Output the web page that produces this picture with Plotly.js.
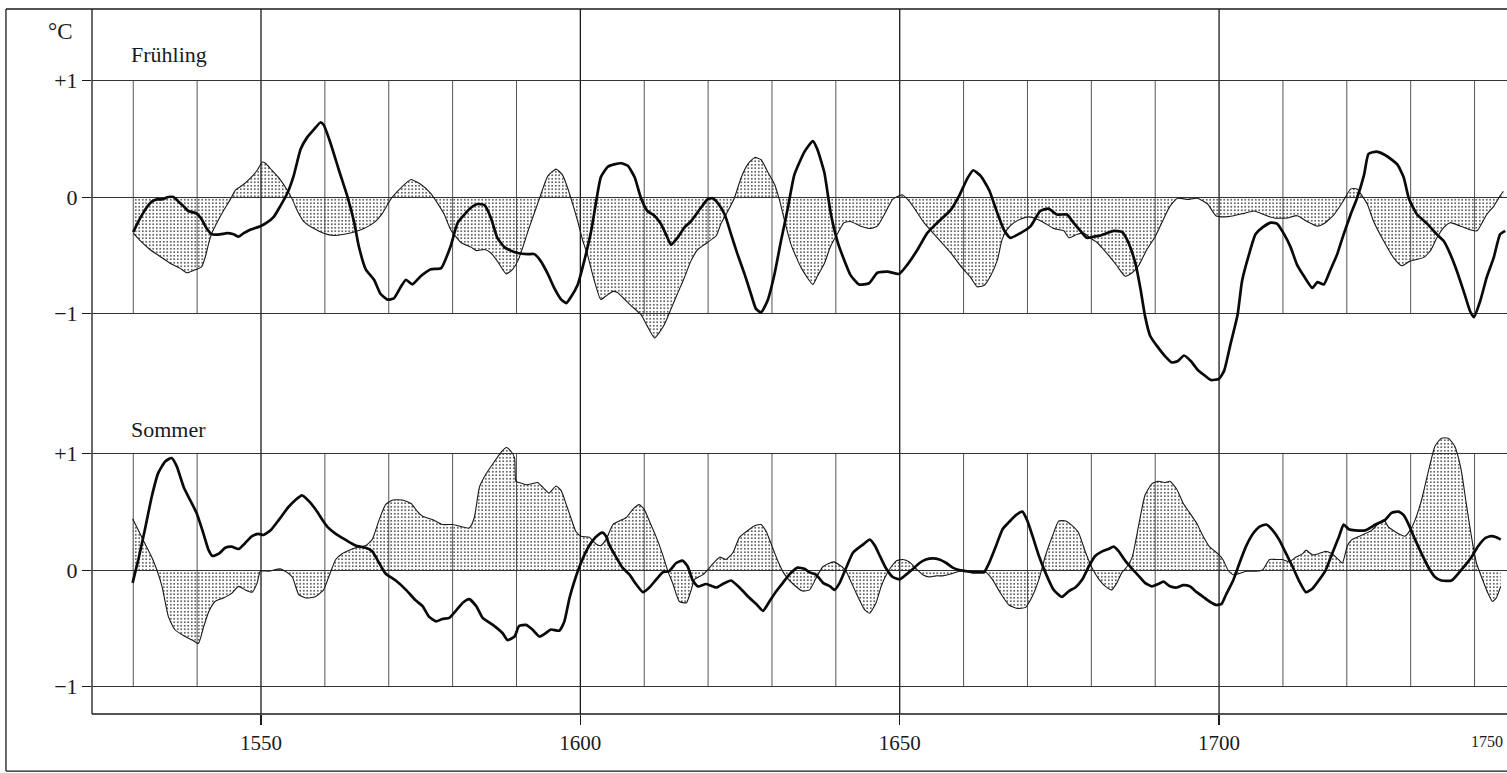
<!DOCTYPE html>
<html><head><meta charset="utf-8">
<script src="https://cdn.plot.ly/plotly-3.0.1.min.js"></script>
<style>html,body{margin:0;padding:0;background:#fff;overflow:hidden}#chart{width:1507px;height:773px}</style>
</head><body><div id="chart"></div>
<script>
// Spring (Frühling): stippled series [year, °C]
const springThin = [[1530.0,-0.31],[1531.0,-0.37],[1532.6,-0.45],[1534.2,-0.51],[1535.8,-0.57],[1537.3,-0.61],[1538.4,-0.65],[1539.9,-0.62],[1540.7,-0.60],[1541.3,-0.51],[1541.8,-0.40],[1542.3,-0.31],[1543.1,-0.22],[1544.1,-0.12],[1545.2,-0.02],[1546.0,0.06],[1547.3,0.11],[1548.3,0.16],[1549.4,0.23],[1550.2,0.30],[1550.7,0.29],[1551.7,0.23],[1553.0,0.15],[1554.1,0.06],[1554.9,-0.02],[1555.7,-0.12],[1556.7,-0.21],[1558.3,-0.27],[1559.8,-0.31],[1561.4,-0.33],[1563.0,-0.32],[1564.6,-0.30],[1566.1,-0.27],[1567.7,-0.22],[1569.0,-0.14],[1570.3,-0.02],[1571.4,0.05],[1572.7,0.12],[1573.5,0.15],[1575.0,0.11],[1576.6,0.03],[1577.6,-0.05],[1578.7,-0.15],[1579.7,-0.28],
[1581.3,-0.39],[1582.9,-0.43],[1583.7,-0.46],[1585.0,-0.45],[1586.0,-0.48],[1587.0,-0.55],[1588.4,-0.66],[1589.4,-0.62],[1590.2,-0.55],[1591.0,-0.43],[1592.0,-0.26],[1593.1,-0.09],[1593.8,0.02],[1594.9,0.18],[1596.2,0.24],[1597.2,0.19],[1598.0,0.08],[1598.8,-0.06],[1599.6,-0.21],[1600.4,-0.38],[1601.1,-0.49],[1601.9,-0.66],[1603.2,-0.88],[1604.0,-0.85],[1605.1,-0.81],[1605.8,-0.82],[1606.6,-0.86],[1607.9,-0.93],[1609.5,-1.01],[1610.5,-1.11],[1611.6,-1.21],[1612.4,-1.16],[1613.2,-1.09],[1614.2,-0.96],[1615.2,-0.83],[1616.3,-0.69],[1617.3,-0.55],[1618.4,-0.45],[1619.9,-0.39],[1621.3,-0.33],[1622.0,-0.23],[1623.1,-0.12],[1624.1,-0.01],[1625.2,0.17],[1626.2,0.28],[1627.3,0.34],[1628.3,0.32],[1629.3,0.22],[1630.4,0.11],[1631.2,-0.03],[1632.0,-0.21],[1633.0,-0.41],[1634.6,-0.61],[1636.4,-0.75],
[1637.1,-0.68],[1638.2,-0.57],[1639.2,-0.42],[1640.3,-0.31],[1641.3,-0.22],[1642.3,-0.21],[1643.9,-0.25],[1645.5,-0.27],[1646.5,-0.25],[1647.6,-0.15],[1648.9,-0.02],[1650.4,0.02],[1651.7,-0.05],[1653.8,-0.22],[1655.9,-0.35],[1658.0,-0.48],[1659.8,-0.61],[1661.1,-0.69],[1662.1,-0.77],[1663.2,-0.76],[1664.2,-0.68],[1665.3,-0.54],[1666.0,-0.37],[1666.8,-0.28],[1667.9,-0.22],[1668.9,-0.19],[1670.2,-0.17],[1671.5,-0.19],[1672.6,-0.22],[1674.1,-0.27],[1675.7,-0.29],[1676.5,-0.35],[1677.8,-0.32],[1678.8,-0.31],[1679.8,-0.35],[1680.9,-0.39],[1681.9,-0.45],[1683.0,-0.52],[1684.0,-0.59],[1685.3,-0.68],[1686.4,-0.65],[1687.4,-0.59],[1688.7,-0.45],[1690.0,-0.34],[1691.3,-0.19],[1692.3,-0.08],
[1693.5,-0.01],[1695.1,-0.02],[1696.6,-0.01],[1698.2,-0.06],[1699.5,-0.16],[1700.8,-0.17],[1702.3,-0.16],[1703.9,-0.14],[1705.5,-0.12],[1707.0,-0.15],[1708.6,-0.18],[1710.7,-0.18],[1712.2,-0.16],[1713.8,-0.21],[1715.4,-0.25],[1716.4,-0.23],[1718.0,-0.15],[1719.5,-0.03],[1720.6,0.07],[1721.6,0.07],[1722.4,0.01],[1723.2,-0.06],[1724.2,-0.21],[1725.8,-0.38],[1727.3,-0.52],[1728.6,-0.59],[1729.9,-0.55],[1732.0,-0.52],[1733.1,-0.46],[1734.1,-0.35],[1735.2,-0.26],[1736.2,-0.22],[1737.8,-0.25],[1739.3,-0.28],[1740.4,-0.29],[1741.1,-0.23],[1741.9,-0.15],[1743.0,-0.08],[1744.0,0.01],[1744.5,0.05]];

// Spring (Frühling): bold series [year, °C]
const springBold = [[1530.0,-0.30],[1531.0,-0.19],[1532.1,-0.09],[1532.9,-0.04],[1533.7,-0.02],[1534.5,-0.02],[1535.5,0.00],[1536.3,0.00],[1537.1,-0.04],[1537.9,-0.08],[1538.6,-0.12],[1539.9,-0.14],[1540.7,-0.19],[1541.5,-0.27],[1542.3,-0.32],[1543.6,-0.32],[1544.7,-0.31],[1545.7,-0.32],[1546.5,-0.34],[1547.3,-0.31],[1548.3,-0.28],[1549.9,-0.25],[1550.9,-0.22],[1552.0,-0.17],[1553.0,-0.08],[1554.1,0.03],[1555.1,0.18],[1556.2,0.41],[1557.2,0.51],[1558.3,0.58],[1559.3,0.64],[1559.8,0.62],[1560.9,0.46],[1562.2,0.23],[1563.5,0.01],[1564.6,-0.22],[1565.3,-0.42],[1566.4,-0.62],[1567.7,-0.71],[1568.7,-0.83],[1569.8,-0.88],[1570.8,-0.87],[1571.9,-0.77],[1572.7,-0.71],[1573.7,-0.75],[1575.0,-0.68],[1576.6,-0.62],[1578.2,-0.61],[1579.7,-0.42],[1580.8,-0.22],
[1582.9,-0.09],[1583.9,-0.06],[1585.0,-0.07],[1586.0,-0.18],[1587.0,-0.35],[1588.1,-0.43],[1589.1,-0.46],[1590.2,-0.48],[1591.7,-0.49],[1592.8,-0.49],[1593.8,-0.55],[1594.9,-0.66],[1595.9,-0.78],[1597.0,-0.88],[1597.8,-0.91],[1598.5,-0.86],[1599.6,-0.75],[1600.6,-0.55],[1601.7,-0.29],[1602.5,-0.03],[1603.2,0.17],[1604.3,0.26],[1605.3,0.28],[1606.4,0.29],[1607.4,0.27],[1608.5,0.17],[1609.5,-0.01],[1610.5,-0.12],[1611.6,-0.16],[1612.6,-0.23],[1613.4,-0.32],[1614.2,-0.41],[1615.2,-0.35],[1616.3,-0.26],[1617.3,-0.21],[1618.9,-0.09],[1619.9,-0.02],[1620.7,-0.01],[1621.5,-0.05],[1622.6,-0.15],[1623.6,-0.32],[1624.6,-0.49],[1625.7,-0.66],[1626.7,-0.83],[1627.5,-0.96],[1628.3,-0.99],[1629.3,-0.89],[1630.4,-0.66],[1631.4,-0.38],[1632.5,-0.09],[1633.5,0.19],[1635.1,0.39],[1636.4,0.48],
[1637.1,0.41],[1638.2,0.21],[1639.2,-0.14],[1640.3,-0.39],[1641.3,-0.54],[1642.3,-0.67],[1643.6,-0.75],[1645.2,-0.74],[1646.5,-0.65],[1648.1,-0.64],[1649.9,-0.66],[1651.2,-0.58],[1652.8,-0.45],[1654.3,-0.31],[1655.9,-0.22],[1658.0,-0.11],[1659.3,0.01],[1660.6,0.16],[1661.5,0.23],[1662.7,0.18],[1664.0,0.06],[1665.3,-0.14],[1666.3,-0.28],[1667.3,-0.35],[1668.9,-0.31],[1670.5,-0.25],[1672.0,-0.12],[1673.3,-0.10],[1674.6,-0.15],[1676.2,-0.15],[1677.2,-0.22],[1678.3,-0.29],[1679.3,-0.35],[1680.4,-0.34],[1681.4,-0.33],[1682.4,-0.31],[1683.5,-0.29],[1684.8,-0.30],[1685.8,-0.39],[1686.9,-0.57],[1687.7,-0.79],[1688.4,-1.02],[1689.2,-1.19],[1690.3,-1.28],[1691.6,-1.37],[1692.6,-1.42],
[1693.5,-1.41],[1694.5,-1.36],[1695.6,-1.41],[1696.6,-1.48],[1697.7,-1.53],[1698.7,-1.57],[1700.0,-1.56],[1700.8,-1.49],[1701.8,-1.26],[1702.9,-1.01],[1703.6,-0.72],[1704.7,-0.49],[1705.7,-0.32],[1706.8,-0.26],[1708.1,-0.22],[1709.1,-0.23],[1710.2,-0.32],[1711.2,-0.43],[1712.2,-0.58],[1713.3,-0.68],[1714.6,-0.78],[1715.4,-0.73],[1716.4,-0.75],[1717.4,-0.63],[1718.5,-0.49],[1719.5,-0.32],[1720.6,-0.15],[1721.6,-0.01],[1722.7,0.19],[1723.4,0.37],[1724.7,0.39],[1726.3,0.35],[1727.9,0.28],[1728.9,0.17],[1729.7,-0.01],[1731.0,-0.15],[1732.6,-0.23],[1734.1,-0.32],[1735.2,-0.38],[1736.2,-0.49],[1737.2,-0.63],[1738.3,-0.81],[1739.3,-0.98],[1739.9,-1.03],[1740.9,-0.89],[1741.9,-0.69],[1743.0,-0.52],[1744.0,-0.32],[1744.8,-0.29]];

// Summer (Sommer): stippled series [year, °C]
const summerThin = [[1529.9,0.44],[1530.8,0.34],[1531.8,0.23],[1532.9,0.11],[1533.7,0.00],[1534.5,-0.14],[1535.5,-0.40],[1536.5,-0.51],[1538.1,-0.57],[1539.2,-0.60],[1540.2,-0.63],[1541.0,-0.49],[1541.8,-0.36],[1542.8,-0.27],[1544.1,-0.24],[1545.4,-0.20],[1546.5,-0.14],[1547.5,-0.17],[1548.6,-0.19],[1549.4,-0.11],[1549.9,-0.01],[1551.2,-0.01],[1553.0,0.01],[1553.8,-0.01],[1554.9,-0.06],[1555.9,-0.21],[1557.0,-0.24],[1558.5,-0.23],[1559.8,-0.17],[1560.6,-0.06],[1561.7,0.09],[1562.7,0.14],[1564.8,0.19],[1566.4,0.21],[1567.4,0.26],[1568.5,0.43],[1569.5,0.56],[1570.6,0.60],[1572.1,0.60],[1573.5,0.57],[1574.5,0.50],[1575.3,0.46],[1576.9,0.43],[1578.4,0.39],[1580.0,0.39],
[1582.6,0.36],[1583.4,0.45],[1584.2,0.71],[1585.2,0.82],[1586.3,0.91],[1587.6,1.01],[1588.4,1.05],[1589.1,1.02],[1589.7,0.96],[1589.9,0.76],[1590.4,0.75],[1591.5,0.73],[1592.5,0.74],[1593.3,0.75],[1594.1,0.71],[1595.1,0.66],[1596.2,0.72],[1597.0,0.68],[1597.8,0.56],[1598.5,0.45],[1599.3,0.33],[1600.1,0.29],[1601.4,0.28],[1602.5,0.22],[1603.2,0.21],[1604.0,0.26],[1605.1,0.39],[1606.1,0.42],[1607.2,0.45],[1608.2,0.52],[1609.2,0.56],[1610.0,0.52],[1610.8,0.42],[1611.9,0.28],[1612.9,0.13],[1613.7,-0.01],[1614.5,-0.12],[1615.5,-0.27],[1616.6,-0.28],[1617.3,-0.18],[1617.9,-0.08],[1619.2,-0.04],[1620.7,0.05],[1621.8,0.11],[1622.8,0.09],[1623.9,0.15],[1624.9,0.28],[1626.0,0.33],[1627.3,0.38],[1628.3,0.39],[1629.1,0.33],[1629.9,0.22],[1630.9,0.08],[1632.0,-0.04],[1633.3,-0.12],[1634.8,-0.18],[1635.9,-0.17],[1636.9,-0.07],
[1638.0,0.03],[1639.6,0.07],[1640.9,0.03],[1641.6,-0.01],[1642.2,-0.08],[1643.2,-0.20],[1644.5,-0.34],[1645.3,-0.37],[1646.3,-0.28],[1647.1,-0.14],[1647.9,-0.04],[1648.7,0.03],[1649.5,0.08],[1650.5,0.09],[1651.5,0.07],[1652.6,0.01],[1653.6,-0.04],[1654.7,-0.06],[1655.7,-0.05],[1656.7,-0.05],[1658.3,-0.03],[1659.3,-0.01],[1660.9,-0.01],[1662.5,-0.01],[1663.5,-0.02],[1664.5,-0.08],[1665.8,-0.20],[1667.1,-0.30],[1668.4,-0.33],[1669.7,-0.32],[1670.8,-0.22],[1671.8,-0.08],[1672.8,0.12],[1673.9,0.29],[1674.9,0.42],[1676.0,0.42],[1677.0,0.38],[1678.0,0.32],[1679.1,0.15],[1680.1,0.02],[1681.2,-0.08],[1682.2,-0.14],[1683.2,-0.17],[1684.0,-0.11],[1684.8,-0.02],[1685.6,0.03],[1686.4,0.11],[1687.4,0.38],[1688.4,0.64],[1689.5,0.74],[1690.5,0.76],[1691.6,0.75],
[1692.3,0.76],[1693.4,0.69],[1694.4,0.57],[1695.4,0.49],[1696.5,0.40],[1697.5,0.29],[1698.5,0.20],[1699.8,0.14],[1700.6,0.09],[1701.4,0.00],[1702.2,-0.04],[1703.2,-0.03],[1704.2,-0.01],[1705.8,-0.01],[1706.8,0.00],[1707.9,0.09],[1708.9,0.09],[1709.9,0.09],[1711.0,0.07],[1712.0,0.11],[1713.1,0.14],[1713.6,0.17],[1714.6,0.13],[1715.6,0.14],[1716.7,0.16],[1717.7,0.14],[1718.5,0.10],[1719.3,0.06],[1720.1,0.21],[1720.8,0.26],[1722.4,0.30],[1723.9,0.34],[1725.0,0.40],[1725.8,0.43],[1726.5,0.37],[1728.1,0.31],[1729.1,0.29],[1729.9,0.34],[1730.7,0.43],[1731.7,0.60],[1732.7,0.83],[1733.8,1.06],[1734.8,1.13],[1735.9,1.13],[1736.9,1.06],[1737.9,0.86],[1738.7,0.57],[1739.5,0.29],[1740.3,0.06],[1741.3,-0.09],[1742.1,-0.20],[1742.8,-0.27],[1743.4,-0.24],[1744.1,-0.14]];

// Summer (Sommer): bold series [year, °C]
const summerBold = [[1529.9,-0.11],[1530.8,0.09],[1531.8,0.34],[1532.9,0.63],[1533.9,0.83],[1535.0,0.93],[1536.0,0.96],[1536.8,0.89],[1537.9,0.71],[1538.9,0.60],[1539.9,0.49],[1541.0,0.31],[1541.8,0.17],[1542.4,0.12],[1543.4,0.14],[1544.4,0.19],[1545.4,0.20],[1546.5,0.18],[1547.5,0.23],[1548.6,0.29],[1549.6,0.31],[1550.4,0.30],[1551.5,0.34],[1552.8,0.43],[1554.3,0.54],[1555.4,0.60],[1556.4,0.64],[1557.5,0.59],[1558.8,0.50],[1559.6,0.43],[1560.4,0.37],[1561.7,0.31],[1563.2,0.26],[1564.8,0.21],[1566.4,0.19],[1567.4,0.16],[1568.5,0.06],[1569.5,-0.03],[1571.1,-0.09],[1572.7,-0.17],[1574.2,-0.26],[1575.3,-0.31],[1576.3,-0.40],[1577.4,-0.44],[1578.4,-0.42],[1579.5,-0.41],
[1580.5,-0.35],[1581.6,-0.28],[1582.6,-0.25],[1583.7,-0.31],[1584.7,-0.41],[1586.3,-0.47],[1587.8,-0.54],[1588.6,-0.60],[1589.7,-0.57],[1590.4,-0.48],[1591.5,-0.47],[1592.5,-0.51],[1593.6,-0.57],[1594.6,-0.54],[1595.4,-0.51],[1596.7,-0.52],[1597.5,-0.44],[1598.3,-0.24],[1599.1,-0.09],[1599.8,0.02],[1600.9,0.16],[1601.9,0.25],[1603.0,0.31],[1603.5,0.32],[1604.0,0.29],[1604.5,0.22],[1605.6,0.11],[1606.6,0.02],[1607.7,-0.04],[1608.7,-0.12],[1609.8,-0.19],[1610.8,-0.15],[1611.9,-0.08],[1612.9,-0.02],[1613.9,-0.01],[1615.0,0.06],[1616.0,0.08],[1616.8,0.03],[1617.6,-0.09],[1618.4,-0.14],[1619.7,-0.12],[1621.3,-0.15],[1622.3,-0.12],[1623.6,-0.09],[1624.9,-0.15],[1626.5,-0.24],[1627.5,-0.29],[1628.6,-0.35],[1629.6,-0.27],[1630.7,-0.18],[1631.7,-0.11],[1632.7,-0.04],[1634.0,0.02],[1635.1,0.01],[1635.9,-0.02],[1636.9,-0.04],
[1638.0,-0.11],[1639.1,-0.14],[1639.8,-0.17],[1640.6,-0.11],[1641.7,0.03],[1642.7,0.15],[1644.3,0.22],[1645.3,0.26],[1646.1,0.21],[1646.9,0.12],[1647.9,0.01],[1648.9,-0.06],[1650.0,-0.08],[1651.0,-0.04],[1652.1,0.01],[1653.1,0.06],[1654.1,0.09],[1655.2,0.10],[1656.2,0.09],[1657.3,0.06],[1658.3,0.02],[1659.3,0.00],[1660.4,-0.01],[1661.4,-0.02],[1662.5,-0.02],[1663.2,-0.02],[1664.0,0.06],[1665.1,0.21],[1666.1,0.35],[1667.1,0.41],[1668.2,0.47],[1669.2,0.50],[1670.0,0.42],[1670.8,0.29],[1671.8,0.12],[1672.8,-0.02],[1674.1,-0.17],[1675.4,-0.23],[1676.5,-0.18],[1677.5,-0.15],[1678.6,-0.08],[1679.6,0.03],[1680.6,0.12],[1681.7,0.16],[1682.7,0.18],[1683.5,0.20],[1684.3,0.16],[1685.3,0.08],[1686.4,0.01],[1687.4,-0.05],[1688.4,-0.11],[1689.5,-0.14],[1690.5,-0.12],[1691.3,-0.10],
[1692.3,-0.14],[1693.4,-0.15],[1694.4,-0.13],[1695.4,-0.14],[1696.5,-0.19],[1697.5,-0.23],[1698.5,-0.27],[1699.6,-0.30],[1700.4,-0.29],[1701.1,-0.21],[1702.2,-0.09],[1703.2,0.06],[1704.2,0.20],[1705.3,0.31],[1706.3,0.37],[1707.4,0.39],[1708.4,0.34],[1709.4,0.26],[1710.5,0.14],[1711.5,0.03],[1712.5,-0.09],[1713.6,-0.19],[1714.6,-0.16],[1715.6,-0.09],[1716.7,0.00],[1717.7,0.14],[1718.8,0.29],[1719.5,0.39],[1720.3,0.35],[1721.3,0.34],[1722.9,0.34],[1724.5,0.39],[1726.0,0.43],[1727.0,0.49],[1728.1,0.50],[1728.9,0.47],[1729.6,0.40],[1730.7,0.26],[1731.7,0.14],[1732.7,0.03],[1733.8,-0.06],[1734.8,-0.09],[1736.4,-0.09],[1737.9,0.00],[1739.5,0.11],[1740.5,0.20],[1741.6,0.27],[1742.6,0.29],[1743.4,0.28],[1744.1,0.26]];

const yTickVals = [-1, 0, 1];
const yTickText = ['−1', '0', '+1'];
const xTickVals = [1550, 1600, 1650, 1700];
const xTickText = ['1550', '1600', '1650', '1700'];
const panelTitles = ['Frühling', 'Sommer'];
const unitLabel = '°C';
const cutLabel = '1750';
const decades = [1530,1540,1560,1570,1580,1590,1610,1620,1630,1640,1660,1670,1680,1690,1710,1720,1730,1740];
const halfCenturies = [1550, 1600, 1650, 1700];

const xs = a => a.map(p => p[0]);
const ys = a => a.map(p => p[1]);
const serif = 'Liberation Serif, DejaVu Serif, serif';
const ink = '#1a1a1a';
const stipple = {shape: '.', size: 3.5, solidity: 0.2, fgcolor: '#333'};

function thin(data, yax) {
  return {x: xs(data), y: ys(data), xaxis: 'x', yaxis: yax, mode: 'lines',
    line: {color: ink, width: 1.1, shape: 'spline', smoothing: 0.5},
    fill: 'tozeroy', fillcolor: 'rgba(0,0,0,0)', fillpattern: stipple, hoverinfo: 'skip'};
}
function bold(data, yax) {
  return {x: xs(data), y: ys(data), xaxis: 'x', yaxis: yax, mode: 'lines',
    line: {color: '#0a0a0a', width: 2.7, shape: 'spline', smoothing: 0.5}, hoverinfo: 'skip'};
}

const traces = [thin(springThin, 'y'), bold(springBold, 'y'), thin(summerThin, 'y2'), bold(summerBold, 'y2')];

const shapes = [];
['y', 'y2'].forEach(ya => decades.forEach(d => shapes.push({type: 'line', xref: 'x', yref: ya, x0: d, x1: d, y0: -1, y1: 1, layer: 'below', line: {color: '#555', width: 1}})));
halfCenturies.forEach(d => shapes.push({type: 'line', xref: 'x', yref: 'paper', x0: d, x1: d, y0: 0, y1: 1, layer: 'below', line: {color: ink, width: 1.3}}));
// frame lines
const L = (x0, y0, x1, y1, w) => ({type: 'line', xref: 'paper', yref: 'paper', x0, y0, x1, y1, line: {color: ink, width: w}});
shapes.push(L(0, 0, 0, 1, 1.3));
shapes.push(L(0, 0, 1, 0, 1.5));
shapes.push(L(-0.0608, 1, 1, 1, 1.3));
shapes.push(L(-0.0608, -0.081, -0.0608, 1, 1.3));
shapes.push(L(-0.0608, -0.081, 1, -0.081, 1.3));

const tf = {family: serif, size: 21, color: ink};
const yf = {family: serif, size: 22, color: ink};
const yBase = {tickvals: yTickVals, ticktext: yTickText, ticks: 'outside', ticklen: 9, tickwidth: 1, tickcolor: ink,
  showgrid: true, gridcolor: '#333', gridwidth: 1, zeroline: false, showline: false, tickfont: yf, fixedrange: true};

const layout = {
  width: 1507, height: 773,
  margin: {l: 92, r: 0, t: 9, b: 59, pad: 0},
  paper_bgcolor: '#fff', plot_bgcolor: 'rgba(0,0,0,0)',
  showlegend: false,
  xaxis: {range: [1523.54, 1745.08], anchor: 'y2', tickvals: xTickVals, ticktext: xTickText, ticks: 'outside', ticklen: 10, tickwidth: 1.3, tickcolor: ink,
    showgrid: false, zeroline: false, showline: false, tickfont: tf, fixedrange: true},
  yaxis: Object.assign({domain: [0.4454, 1], range: [-1.742, 1.614]}, yBase),
  yaxis2: Object.assign({domain: [0, 0.4454], range: [-1.234, 1.457], anchor: 'x'}, yBase),
  shapes: shapes,
  annotations: [
    {text: unitLabel, xref: 'paper', yref: 'paper', x: -0.0225, y: 0.968, xanchor: 'center', yanchor: 'middle', showarrow: false, font: {family: serif, size: 23, color: ink}},
    {text: panelTitles[0], xref: 'paper', yref: 'paper', x: 0.0265, y: 0.935, xanchor: 'left', yanchor: 'middle', showarrow: false, font: {family: serif, size: 22, color: ink}},
    {text: panelTitles[1], xref: 'paper', yref: 'paper', x: 0.0265, y: 0.403, xanchor: 'left', yanchor: 'middle', showarrow: false, font: {family: serif, size: 22, color: ink}},
    {text: cutLabel, xref: 'paper', yref: 'paper', x: 0.9985, y: -0.0383, xanchor: 'right', yanchor: 'middle', showarrow: false, font: {family: serif, size: 16, color: ink}}
  ]
};

Plotly.newPlot('chart', traces, layout, {displayModeBar: false, staticPlot: true});
</script></body></html>
